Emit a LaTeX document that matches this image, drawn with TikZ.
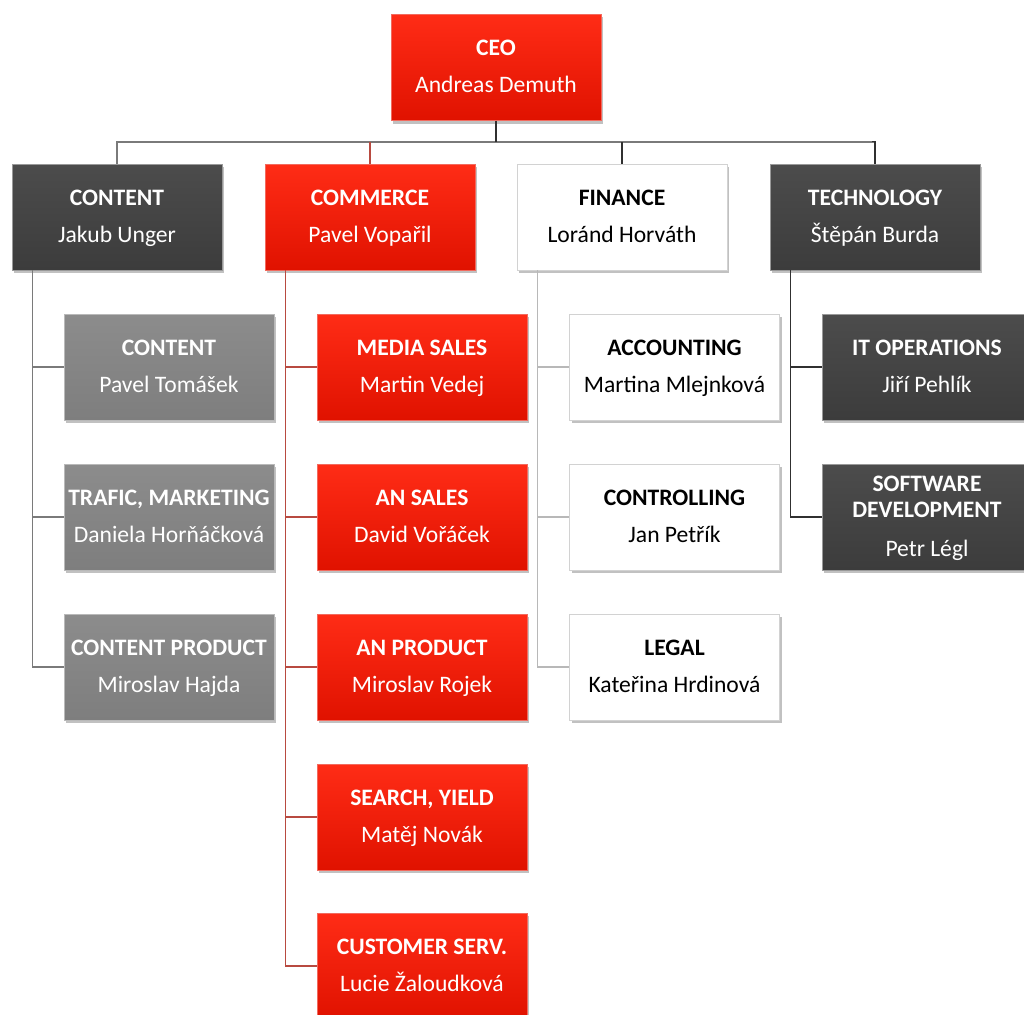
\documentclass[tikz,border=0pt]{standalone}
\usepackage{fontspec}
\setmainfont{Carlito}
\usetikzlibrary{shadows}
\definecolor{redtop}{HTML}{FF2C16}
\definecolor{redbot}{HTML}{E01200}
\definecolor{redline}{HTML}{F26A5E}
\definecolor{dktop}{HTML}{4C4C4C}
\definecolor{dkbot}{HTML}{3C3C3C}
\definecolor{mdtop}{HTML}{8C8C8C}
\definecolor{mdbot}{HTML}{7E7E7E}
\definecolor{cgray}{HTML}{7A7A7A}
\definecolor{cdark}{HTML}{303030}
\definecolor{cred}{HTML}{B84A40}
\definecolor{clight}{HTML}{B8B8B8}
\tikzset{
  box/.style={minimum width=210pt, minimum height=106pt, inner sep=0pt,
    drop shadow={shadow xshift=2pt, shadow yshift=-3pt, opacity=0.35, fill=black!70}},
  redbox/.style={box, top color=redtop, bottom color=redbot, draw=redline, line width=0.8pt},
  darkbox/.style={box, top color=dktop, bottom color=dkbot, draw=gray!80, line width=0.8pt},
  graybox/.style={box, top color=mdtop, bottom color=mdbot, draw=gray!55, line width=0.8pt},
  whitebox/.style={box, fill=white, draw=gray!35, line width=0.8pt},
  ttl/.style={anchor=base, inner sep=0pt, font=\bfseries\fontsize{23.6}{27}\selectfont},
  nm/.style={anchor=base, inner sep=0pt, font=\fontsize{23.6}{27}\selectfont},
  conn/.style={line width=1.5pt, cgray},
}
\newcommand\obox[7]{%
  \node[#2] (#1) at (#4,#5) {};
  \node[ttl, text=#3] (#1t) at ([yshift=12pt]#1.center) {#6};
  \node[nm, text=#3] (#1n) at ([yshift=-25pt]#1.center) {#7};
}
\begin{document}
\begin{tikzpicture}[x=1pt,y=1pt]
\useasboundingbox (0,0) rectangle (1024,-1014);
% CEO and level 1
\obox{ceo}{redbox}{white}{496}{-67.5}{CEO}{Andreas Demuth}
\obox{content}{darkbox}{white}{117}{-217}{CONTENT}{Jakub Unger}
\obox{commerce}{redbox}{white}{370}{-217}{COMMERCE}{Pavel Vopařil}
\obox{finance}{whitebox}{black}{622}{-217}{FINANCE}{Loránd Horváth}
\obox{tech}{darkbox}{white}{875}{-217}{TECHNOLOGY}{Štěpán Burda}
% level 1 connectors
\draw[conn] (ceo.south) -- ++(0,-21) -| (content.north);
\draw[conn] (ceo.south) -- ++(0,-21) -| (commerce.north);
\draw[conn] (ceo.south) -- ++(0,-21) -| (finance.north);
\draw[conn] (ceo.south) -- ++(0,-21) -| (tech.north);
\draw[conn, cdark] (ceo.south) -- ++(0,-21);
\draw[conn, cred] (commerce.north) -- ++(0,22);
\draw[conn, cdark] (tech.north) -- ++(0,22) -- ++(-3,0);
\draw[conn, cdark] (finance.north) -- ++(0,22);
% content subs
\obox{c1}{graybox}{white}{169}{-367}{CONTENT}{Pavel Tomášek}
\obox{c2}{graybox}{white}{169}{-517}{TRAFIC, MARKETING}{Daniela Horňáčková}
\obox{c3}{graybox}{white}{169}{-667}{CONTENT PRODUCT}{Miroslav Hajda}
% commerce subs
\obox{m1}{redbox}{white}{422}{-367}{MEDIA SALES}{Martin Vedej}
\obox{m2}{redbox}{white}{422}{-517}{AN SALES}{David Vořáček}
\obox{m3}{redbox}{white}{422}{-667}{AN PRODUCT}{Miroslav Rojek}
\obox{m4}{redbox}{white}{422}{-817}{SEARCH, YIELD}{Matěj Novák}
\obox{m5}{redbox}{white}{422}{-966}{CUSTOMER SERV.}{Lucie Žaloudková}
% finance subs
\obox{f1}{whitebox}{black}{674.5}{-367}{ACCOUNTING}{Martina Mlejnková}
\obox{f2}{whitebox}{black}{674.5}{-517}{CONTROLLING}{Jan Petřík}
\obox{f3}{whitebox}{black}{674.5}{-667}{LEGAL}{Kateřina Hrdinová}
% technology subs
\obox{t1}{darkbox}{white}{927}{-367}{IT OPERATIONS}{Jiří Pehlík}
\node[darkbox] (t2) at (927,-517) {};
\node[ttl, text=white] (t2a) at ([yshift=26pt]t2.center) {SOFTWARE};
\node[ttl, text=white] (t2b) at (t2.center) {DEVELOPMENT};
\node[nm, text=white] (t2n) at ([yshift=-39pt]t2.center) {Petr Légl};
% level 2 connectors
\draw[conn] ([xshift=21pt]content.south west) |- (c1.west);
\draw[conn] ([xshift=21pt]content.south west) |- (c2.west);
\draw[conn] ([xshift=21pt]content.south west) |- (c3.west);
\draw[conn, cred] ([xshift=21pt]commerce.south west) |- (m1.west);
\draw[conn, cred] ([xshift=21pt]commerce.south west) |- (m2.west);
\draw[conn, cred] ([xshift=21pt]commerce.south west) |- (m3.west);
\draw[conn, cred] ([xshift=21pt]commerce.south west) |- (m4.west);
\draw[conn, cred] ([xshift=21pt]commerce.south west) |- (m5.west);
\draw[conn, clight] ([xshift=21pt]finance.south west) |- (f1.west);
\draw[conn, clight] ([xshift=21pt]finance.south west) |- (f2.west);
\draw[conn, clight] ([xshift=21pt]finance.south west) |- (f3.west);
\draw[conn, cdark] ([xshift=21pt]tech.south west) |- (t1.west);
\draw[conn, cdark] ([xshift=21pt]tech.south west) |- (t2.west);
\end{tikzpicture}
\end{document}
